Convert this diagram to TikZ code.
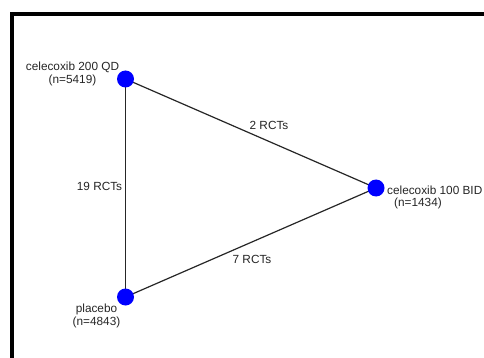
\documentclass[tikz,border=0pt]{standalone}
\usepackage{fontspec}
\setmainfont{Liberation Sans}
\begin{document}
\begin{tikzpicture}[x=1pt,y=-1pt,
  trt/.style={circle,fill=blue,inner sep=0pt,minimum size=17pt},
  lbl/.style={font=\fontsize{11.8}{12.5}\selectfont,inner sep=0pt,align=center,text=black!85},
  edge/.style={line width=1.2pt,draw=black!85}]
\useasboundingbox (0,0) rectangle (484,358);
\clip (0,0) rectangle (484,358);
\fill[white] (0,0) rectangle (484,358);
\draw[line width=4pt] (11.5,400) -- (11.5,13.7) -- (520,13.7);
\coordinate (A) at (125.5,79);
\coordinate (P) at (125.5,297);
\coordinate (B) at (376,188);
\draw[edge] (A) -- (P);
\draw[edge] (A) -- (B);
\draw[edge] (P) -- (B);
\node[trt] (nA) at (A) {};
\node[trt] (nP) at (P) {};
\node[trt] (nB) at (B) {};
\node[lbl] (tA) at (72.5,74) {celecoxib 200 QD\\(n=5419)};
\node[lbl] (tP) at (96.5,316) {placebo\\(n=4843)};
\node[lbl,anchor=west] (tB1) at (387,190) {celecoxib 100 BID};
\node[lbl] (tB2) at (418,203) {(n=1434)};
\node[lbl] (e1) at (269,125) {2 RCTs};
\node[lbl] (e2) at (99.5,186) {19 RCTs};
\node[lbl] (e3) at (252,259) {7 RCTs};
\end{tikzpicture}
\end{document}
